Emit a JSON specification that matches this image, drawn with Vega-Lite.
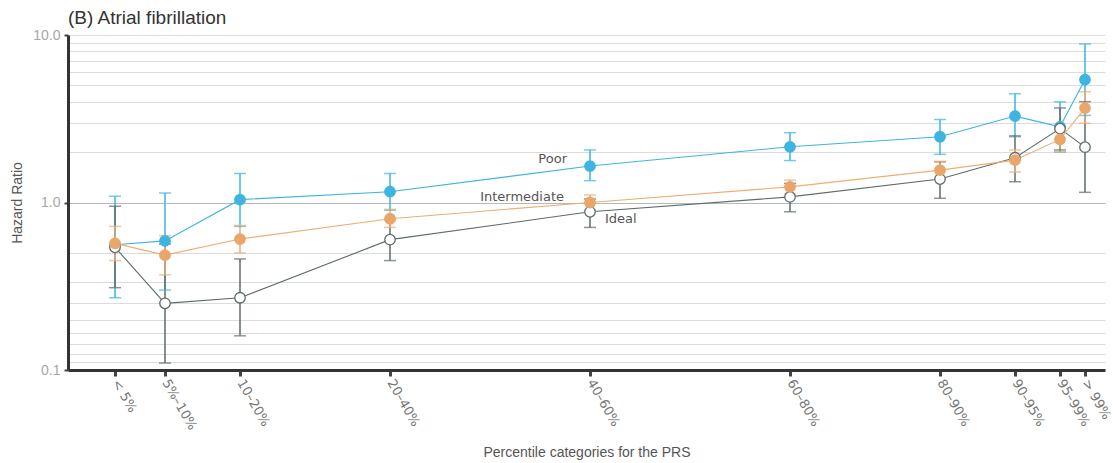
{
  "$schema": "https://vega.github.io/schema/vega-lite/v6.json",
  "width": 1037,
  "height": 335,
  "autosize": {"type": "none"},
  "padding": {"left": 68, "top": 35, "right": 8, "bottom": 93},
  "background": "#ffffff",
  "config": {
    "view": {"stroke": null},
    "font": "Liberation Sans"
  },
  "title": {
    "text": "(B) Atrial fibrillation",
    "anchor": "start",
    "frame": "group",
    "offset": 0,
    "fontSize": 19,
    "fontWeight": "normal",
    "font": "Liberation Sans",
    "color": "#333333"
  },
  "data": {
    "values": [
      {"cat": "< 5%", "m": 2.5, "group": "Poor", "hr": 0.56, "lo": 0.27, "hi": 1.09},
      {"cat": "5%–10%", "m": 7.5, "group": "Poor", "hr": 0.59, "lo": 0.30, "hi": 1.14},
      {"cat": "10–20%", "m": 15, "group": "Poor", "hr": 1.04, "lo": 0.72, "hi": 1.49},
      {"cat": "20–40%", "m": 30, "group": "Poor", "hr": 1.16, "lo": 0.90, "hi": 1.49},
      {"cat": "40–60%", "m": 50, "group": "Poor", "hr": 1.65, "lo": 1.35, "hi": 2.06},
      {"cat": "60–80%", "m": 70, "group": "Poor", "hr": 2.15, "lo": 1.78, "hi": 2.61},
      {"cat": "80–90%", "m": 85, "group": "Poor", "hr": 2.47, "lo": 1.94, "hi": 3.13},
      {"cat": "90–95%", "m": 92.5, "group": "Poor", "hr": 3.28, "lo": 2.47, "hi": 4.46},
      {"cat": "95–99%", "m": 97, "group": "Poor", "hr": 2.83, "lo": 2.0, "hi": 3.99},
      {"cat": "> 99%", "m": 99.5, "group": "Poor", "hr": 5.42, "lo": 3.31, "hi": 8.84},

      {"cat": "< 5%", "m": 2.5, "group": "Ideal", "hr": 0.54, "lo": 0.31, "hi": 0.95},
      {"cat": "5%–10%", "m": 7.5, "group": "Ideal", "hr": 0.25, "lo": 0.11, "hi": 0.565},
      {"cat": "10–20%", "m": 15, "group": "Ideal", "hr": 0.27, "lo": 0.16, "hi": 0.46},
      {"cat": "20–40%", "m": 30, "group": "Ideal", "hr": 0.60, "lo": 0.45, "hi": 0.79},
      {"cat": "40–60%", "m": 50, "group": "Ideal", "hr": 0.88, "lo": 0.71, "hi": 1.05},
      {"cat": "60–80%", "m": 70, "group": "Ideal", "hr": 1.08, "lo": 0.88, "hi": 1.30},
      {"cat": "80–90%", "m": 85, "group": "Ideal", "hr": 1.38, "lo": 1.06, "hi": 1.75},
      {"cat": "90–95%", "m": 92.5, "group": "Ideal", "hr": 1.85, "lo": 1.33, "hi": 2.5},
      {"cat": "95–99%", "m": 97, "group": "Ideal", "hr": 2.76, "lo": 2.06, "hi": 3.67},
      {"cat": "> 99%", "m": 99.5, "group": "Ideal", "hr": 2.14, "lo": 1.15, "hi": 4.0},

      {"cat": "< 5%", "m": 2.5, "group": "Intermediate", "hr": 0.57, "lo": 0.45, "hi": 0.72},
      {"cat": "5%–10%", "m": 7.5, "group": "Intermediate", "hr": 0.485, "lo": 0.37, "hi": 0.635},
      {"cat": "10–20%", "m": 15, "group": "Intermediate", "hr": 0.605, "lo": 0.50, "hi": 0.73},
      {"cat": "20–40%", "m": 30, "group": "Intermediate", "hr": 0.80, "lo": 0.71, "hi": 0.91},
      {"cat": "40–60%", "m": 50, "group": "Intermediate", "hr": 1.0, "lo": 0.90, "hi": 1.11},
      {"cat": "60–80%", "m": 70, "group": "Intermediate", "hr": 1.24, "lo": 1.13, "hi": 1.36},
      {"cat": "80–90%", "m": 85, "group": "Intermediate", "hr": 1.56, "lo": 1.38, "hi": 1.76},
      {"cat": "90–95%", "m": 92.5, "group": "Intermediate", "hr": 1.79, "lo": 1.52, "hi": 2.06},
      {"cat": "95–99%", "m": 97, "group": "Intermediate", "hr": 2.38, "lo": 2.0, "hi": 2.83},
      {"cat": "> 99%", "m": 99.5, "group": "Intermediate", "hr": 3.66, "lo": 2.97, "hi": 4.58}
    ]
  },
  "encoding": {
    "x": {
      "field": "m",
      "type": "quantitative",
      "scale": {"domain": [-2.2, 101.5], "nice": false, "zero": false},
      "axis": {
        "title": "Percentile categories for the PRS",
        "titleFont": "Liberation Sans",
        "titleFontSize": 14,
        "titleFontWeight": "normal",
        "titleColor": "#555555",
        "titlePadding": 13,
        "values": [2.5, 7.5, 15, 30, 50, 70, 85, 92.5, 97, 99.5],
        "labelExpr": "['< 5%','5%–10%','10–20%','20–40%','40–60%','60–80%','80–90%','90–95%','95–99%','> 99%'][indexof([2.5,7.5,15,30,50,70,85,92.5,97,99.5], datum.value)]",
        "labelAngle": 60,
        "labelAlign": "left",
        "labelBaseline": "middle",
        "labelPadding": 4,
        "labelFont": "DejaVu Sans",
        "labelFontSize": 13,
        "labelColor": "#777777",
        "labelOverlap": false,
        "grid": false,
        "domainColor": "#333333",
        "domainWidth": 3,
        "tickColor": "#444444",
        "tickWidth": 3,
        "tickSize": 6
      }
    }
  },
  "layer": [
    {
      "mark": {"type": "rule", "strokeWidth": 1.5},
      "encoding": {
        "y": {
          "field": "lo",
          "type": "quantitative",
          "scale": {"type": "log", "domain": [0.1, 10], "nice": false},
          "axis": {
            "title": "Hazard Ratio",
            "titleFont": "Liberation Sans",
            "titleFontSize": 14,
            "titleFontWeight": "normal",
            "titleColor": "#555555",
            "titlePadding": 8,
            "values": [0.1, 0.1111111, 0.125, 0.1428571, 0.1666667, 0.2, 0.25, 0.3333333, 0.5, 1, 2, 3, 4, 5, 6, 7, 8, 9, 10],
            "labelExpr": "(datum.value == 0.1 || datum.value == 1 || datum.value == 10) ? format(datum.value, '.1f') : ''",
            "labelFont": "Liberation Sans",
            "labelFontSize": 14,
            "labelColor": "#a6a6a6",
            "labelPadding": 4,
            "grid": true,
            "gridColor": {"condition": {"test": "datum.value == 1", "value": "#b8b8b8"}, "value": "#dcdcdc"},
            "gridWidth": 1,
            "domainColor": "#333333",
            "domainWidth": 3,
            "tickColor": "#444444",
            "tickWidth": 2,
            "tickSize": 4,
            "tickOpacity": {"condition": {"test": "datum.value == 0.1 || datum.value == 1 || datum.value == 10", "value": 1}, "value": 0}
          }
        },
        "y2": {"field": "hi"},
        "color": {
          "field": "group",
          "type": "nominal",
          "scale": {"domain": ["Poor", "Ideal", "Intermediate"], "range": ["#3db5e0", "#5e6b6b", "#efad72"]},
          "legend": null
        }
      }
    },
    {
      "transform": [{"fold": ["lo", "hi"], "as": ["bound", "val"]}],
      "mark": {"type": "tick", "orient": "horizontal", "size": 12, "thickness": 1.5},
      "encoding": {
        "y": {"field": "val", "type": "quantitative", "title": "Hazard Ratio"},
        "color": {"field": "group", "type": "nominal", "legend": null}
      }
    },
    {
      "mark": {"type": "line", "strokeWidth": 1.1},
      "encoding": {
        "y": {"field": "hr", "type": "quantitative", "title": "Hazard Ratio"},
        "color": {"field": "group", "type": "nominal", "legend": null},
        "order": {"field": "m"}
      }
    },
    {
      "mark": {"type": "point", "filled": false, "size": 110, "strokeWidth": 1.3, "opacity": 1},
      "encoding": {
        "y": {"field": "hr", "type": "quantitative", "title": "Hazard Ratio"},
        "fill": {
          "field": "group",
          "type": "nominal",
          "scale": {"domain": ["Poor", "Ideal", "Intermediate"], "range": ["#3db5e0", "#ffffff", "#e9a66b"]},
          "legend": null
        },
        "stroke": {
          "field": "group",
          "type": "nominal",
          "scale": {"domain": ["Poor", "Ideal", "Intermediate"], "range": ["#3db5e0", "#5e6b6b", "#e9a66b"]},
          "legend": null
        }
      }
    },
    {
      "transform": [{"filter": "datum.m == 50 && datum.group == 'Poor'"}],
      "mark": {"type": "text", "align": "right", "baseline": "middle", "dx": -23, "dy": -7, "font": "DejaVu Sans", "fontSize": 13, "color": "#555555"},
      "encoding": {
        "y": {"field": "hr", "type": "quantitative", "title": "Hazard Ratio"},
        "text": {"field": "group"}
      }
    },
    {
      "transform": [{"filter": "datum.m == 50 && datum.group == 'Intermediate'"}],
      "mark": {"type": "text", "align": "right", "baseline": "middle", "dx": -26, "dy": -6, "font": "DejaVu Sans", "fontSize": 13, "color": "#555555"},
      "encoding": {
        "y": {"field": "hr", "type": "quantitative", "title": "Hazard Ratio"},
        "text": {"field": "group"}
      }
    },
    {
      "transform": [{"filter": "datum.m == 50 && datum.group == 'Ideal'"}],
      "mark": {"type": "text", "align": "left", "baseline": "middle", "dx": 15, "dy": 7, "font": "DejaVu Sans", "fontSize": 13, "color": "#555555"},
      "encoding": {
        "y": {"field": "hr", "type": "quantitative", "title": "Hazard Ratio"},
        "text": {"field": "group"}
      }
    }
  ]
}
